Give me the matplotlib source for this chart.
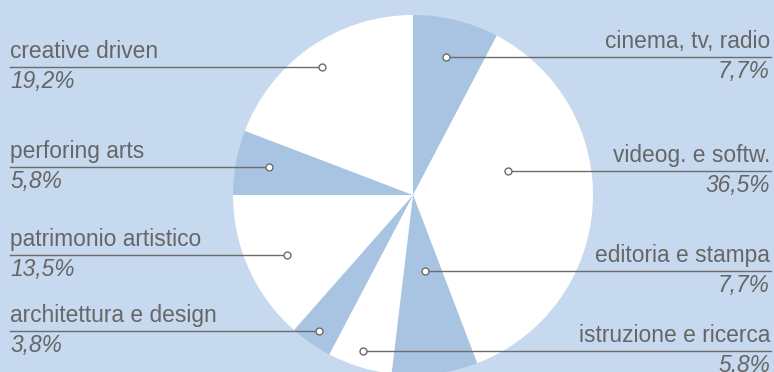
import matplotlib.pyplot as plt

# creative industries share, clockwise from 12 o'clock
sectors = ["cinema, tv, radio", "videog. e softw.", "editoria e stampa",
           "istruzione e ricerca", "architettura e design",
           "patrimonio artistico", "perforing arts", "creative driven"]
shares = [7.7, 36.5, 7.7, 5.8, 3.8, 13.5, 5.8, 19.2]

BG = "#c6d9ee"
BLUE = "#a8c4e2"
TEXT = "#666666"
LINE = "#6c6c6c"
W, H = 774, 372

# leader layout (pixel rows from the top, dot x, side)
line_rows = [57, 171, 271, 351, 331, 255, 167, 67]
dot_x = [446, 508, 425, 363, 319, 287, 269, 322]
side = ["r", "r", "r", "r", "l", "l", "l", "l"]

plt.rcParams["font.family"] = ["Liberation Sans", "DejaVu Sans"]

fig = plt.figure(figsize=(W / 100, H / 100), dpi=100, facecolor=BG)
ax = fig.add_axes([0, 0, 1, 1])
ax.set_facecolor(BG)

colors = [BLUE if i % 2 == 0 else "white" for i in range(len(shares))]
ax.pie(shares, colors=colors, startangle=90, counterclock=False,
       center=(413, H - 195), radius=180, wedgeprops=dict(linewidth=0))
ax.set_xlim(0, W)
ax.set_ylim(0, H)
ax.set_aspect("auto")
ax.axis("off")

for name, val, row, dx, s in zip(sectors, shares, line_rows, dot_x, side):
    y = H - row
    pct = f"{val:.1f}%".replace(".", ",")
    if s == "l":
        x0, x1, tx, ha = 10, dx, 10, "left"
    else:
        x0, x1, tx, ha = dx, 771, 770, "right"
    ax.plot([x0, x1], [y, y], color=LINE, lw=1.0, zorder=3)
    ax.plot(dx, y, "o", ms=5, mfc="white", mec=LINE, mew=1.0, zorder=4)
    ax.text(tx, y + 9, name, ha=ha, va="baseline", fontsize=16.4,
            color=TEXT)
    ax.text(tx, y - 21, pct, ha=ha, va="baseline", fontsize=16.4,
            style="italic", color=TEXT)

fig.savefig("out.png", dpi=100, facecolor=BG)
